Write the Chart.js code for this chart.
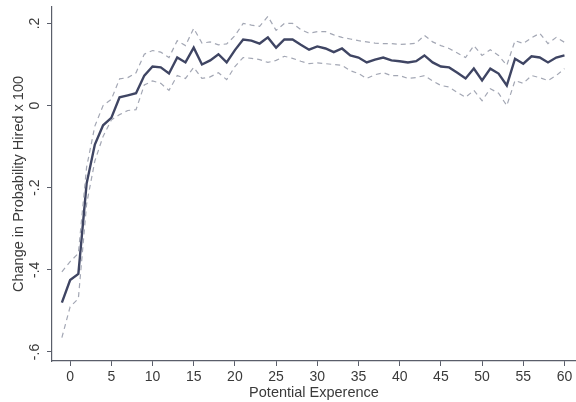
<!DOCTYPE html>
<html>
<head>
<meta charset="utf-8">
<script src="https://cdn.jsdelivr.net/npm/chart.js@4/dist/chart.umd.min.js"></script>
<style>
html,body{margin:0;padding:0;background:#fff}
#wrap{width:576px;height:402px}
</style>
</head>
<body>
<div id="wrap"><canvas id="grafico" width="576" height="402"></canvas></div>
<script>
// experiencia potencial (años)
var experiencia=[-1,0,1,2,3,4,5,6,7,8,9,10,11,12,13,14,15,16,17,18,19,20,21,22,23,24,25,26,27,28,29,30,31,32,33,34,35,36,37,38,39,40,41,42,43,44,45,46,47,48,49,50,51,52,53,54,55,56,57,58,59,60];
var efecto=[-0.48,-0.425,-0.41,-0.19,-0.095,-0.048,-0.03,0.02,0.025,0.03,0.073,0.095,0.093,0.078,0.117,0.105,0.141,0.10,0.11,0.125,0.105,0.135,0.161,0.158,0.151,0.166,0.141,0.161,0.161,0.148,0.136,0.144,0.139,0.13,0.139,0.122,0.117,0.105,0.112,0.117,0.11,0.108,0.105,0.108,0.122,0.105,0.095,0.093,0.08,0.066,0.09,0.061,0.09,0.078,0.049,0.114,0.102,0.12,0.117,0.105,0.117,0.122];
var ciSup=[-0.405,-0.38,-0.36,-0.15,-0.05,0.0,0.015,0.065,0.068,0.08,0.125,0.134,0.13,0.117,0.158,0.146,0.188,0.152,0.155,0.148,0.15,0.17,0.2,0.196,0.193,0.217,0.183,0.2,0.2,0.185,0.176,0.18,0.18,0.172,0.166,0.162,0.158,0.155,0.152,0.151,0.151,0.149,0.15,0.152,0.171,0.155,0.146,0.139,0.128,0.117,0.146,0.122,0.136,0.122,0.098,0.158,0.151,0.165,0.176,0.151,0.166,0.154];
var ciInf=[-0.565,-0.49,-0.47,-0.24,-0.135,-0.075,-0.035,-0.022,-0.012,-0.01,0.05,0.06,0.054,0.037,0.073,0.066,0.093,0.066,0.07,0.08,0.063,0.095,0.117,0.115,0.112,0.105,0.11,0.12,0.115,0.108,0.102,0.104,0.102,0.1,0.098,0.085,0.078,0.066,0.075,0.08,0.073,0.073,0.066,0.068,0.073,0.06,0.049,0.045,0.032,0.02,0.037,0.012,0.041,0.03,0.0,0.061,0.054,0.073,0.068,0.061,0.073,0.09];
var ticksX=[0,5,10,15,20,25,30,35,40,45,50,55,60];
var ticksY=[-0.6,-0.4,-0.2,0,0.2];

function puntos(vals){
  return experiencia.map(function(x,i){return {x:x,y:vals[i]};});
}
function etiquetaY(v){
  if(Math.abs(v)<1e-9)return '0';
  var s=(Math.round(v*10)/10).toString();
  return s.replace('0.','.');
}

var colorEje='#5a5e6a',colorTexto='#3a3a3a';
var fuenteTicks={family:'"Liberation Sans", Arial, sans-serif',size:14};
var fuenteTitulo={family:'"Liberation Sans", Arial, sans-serif',size:14.5};

// etiquetas del eje Y giradas (estilo Stata), centradas en cada marca
var etiquetasGiradas={
  id:'etiquetasGiradas',
  afterDraw:function(chart){
    var sy=chart.scales.y,ctx=chart.ctx;
    ctx.save();
    ctx.fillStyle=colorTexto;
    ctx.font='14px "Liberation Sans", Arial, sans-serif';
    ctx.textAlign='center';ctx.textBaseline='middle';
    ticksY.forEach(function(v){
      var py=sy.getPixelForValue(v);
      ctx.save();ctx.translate(35,py);ctx.rotate(-Math.PI/2);
      ctx.fillText(etiquetaY(v),0,0);
      ctx.restore();
    });
    ctx.restore();
  }
};

new Chart(document.getElementById('grafico'),{
  type:'line',
  data:{
    datasets:[
      {label:'ci sup',data:puntos(ciSup),borderColor:'#a3a7b4',borderWidth:1.2,borderDash:[5,4],pointRadius:0,fill:false,tension:0},
      {label:'ci inf',data:puntos(ciInf),borderColor:'#a3a7b4',borderWidth:1.2,borderDash:[5,4],pointRadius:0,fill:false,tension:0},
      {label:'efecto',data:puntos(efecto),borderColor:'#3f4563',borderWidth:2.4,pointRadius:0,fill:false,tension:0}
    ]
  },
  options:{
    responsive:false,
    animation:false,
    layout:{padding:{top:7,right:0,left:0,bottom:0}},
    plugins:{legend:{display:false},tooltip:{enabled:false}},
    scales:{
      x:{
        type:'linear',min:-2.2,max:61.4,
        afterBuildTicks:function(s){s.ticks=ticksX.map(function(v){return {value:v};});},
        afterFit:function(s){s.height=41;},
        grid:{display:true,drawOnChartArea:false,drawTicks:true,tickLength:5,color:colorEje,lineWidth:1},
        border:{display:true,color:colorEje,width:1.2},
        ticks:{color:colorTexto,font:fuenteTicks,padding:3,maxRotation:0,minRotation:0},
        title:{display:true,text:'Potential Experence',color:colorTexto,font:fuenteTitulo,padding:{top:-6,bottom:0}}
      },
      y:{
        type:'linear',min:-0.622,max:0.24,
        afterBuildTicks:function(s){s.ticks=ticksY.map(function(v){return {value:v};});},
        afterFit:function(s){s.width=52;},
        grid:{display:true,drawOnChartArea:false,drawTicks:true,tickLength:5,color:colorEje,lineWidth:1},
        border:{display:true,color:colorEje,width:1.2},
        ticks:{display:false},
        title:{display:true,text:'Change in Probability Hired x 100',color:colorTexto,font:fuenteTitulo,padding:{top:10,bottom:0}}
      }
    }
  },
  plugins:[etiquetasGiradas]
});
</script>
</body>
</html>
